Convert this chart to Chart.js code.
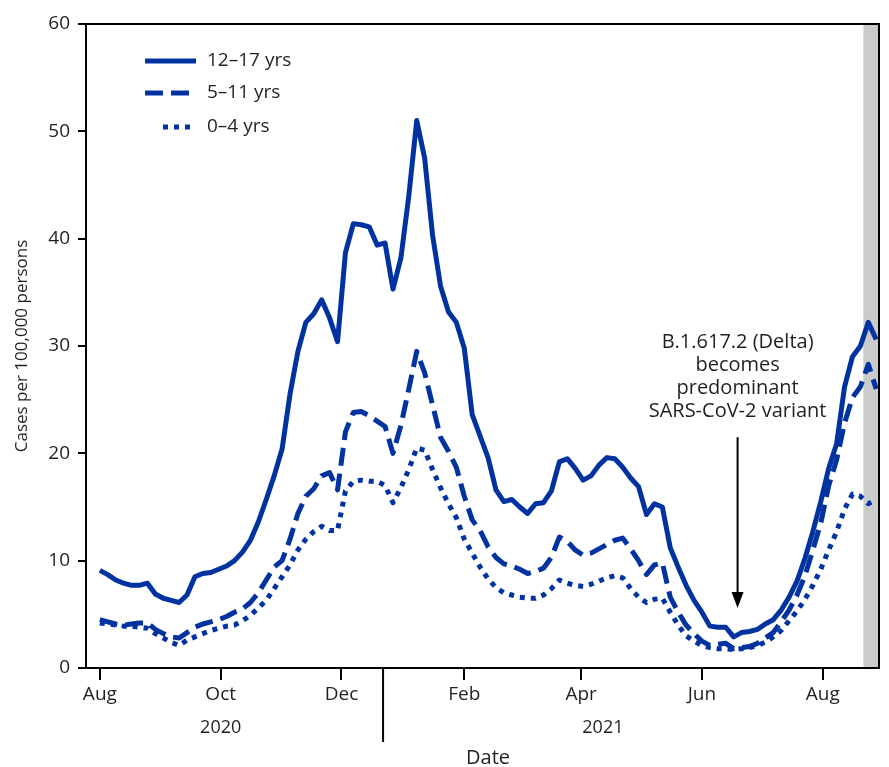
<!DOCTYPE html>
<html>
<head>
<meta charset="utf-8">
<script src="https://cdn.jsdelivr.net/npm/chart.js@4"></script>
<style>
  html, body { margin: 0; padding: 0; background: #fff; }
  #wrap { width: 889px; height: 767px; }
</style>
</head>
<body>
<div id="wrap"><canvas id="caseChart" width="889" height="767"></canvas></div>
<script>
// Days since Aug 1, 2020 (sampled every 4 days)
const days = [
  0, 4, 8, 12, 16, 20, 24, 28, 32, 36,
  40, 44, 48, 52, 56, 60, 64, 68, 72, 76,
  80, 84, 88, 92, 96, 100, 104, 108, 112, 116,
  120, 124, 128, 132, 136, 140, 144, 148, 152, 156,
  160, 164, 168, 172, 176, 180, 184, 188, 192, 196,
  200, 204, 208, 212, 216, 220, 224, 228, 232, 236,
  240, 244, 248, 252, 256, 260, 264, 268, 272, 276,
  280, 284, 288, 292, 296, 300, 304, 308, 312, 316,
  320, 324, 328, 332, 336, 340, 344, 348, 352, 356,
  360, 364, 368, 372, 376, 380, 384, 388, 392
];

// Cases per 100,000 persons
const age12to17 = [
  9.1, 8.7, 8.2, 7.9, 7.7, 7.7, 7.9, 6.9, 6.5, 6.3,
  6.1, 6.8, 8.5, 8.8, 8.9, 9.2, 9.5, 10.0, 10.8, 11.9,
  13.6, 15.7, 17.9, 20.4, 25.5, 29.5, 32.2, 33.0, 34.3, 32.6,
  30.4, 38.7, 41.4, 41.3, 41.1, 39.4, 39.6, 35.3, 38.2, 44.0,
  51.0, 47.5, 40.3, 35.6, 33.2, 32.2, 29.8, 23.6, 21.6, 19.6,
  16.6, 15.5, 15.7, 15.0, 14.4, 15.3, 15.4, 16.5, 19.2, 19.5,
  18.6, 17.5, 17.9, 18.9, 19.6, 19.5, 18.7, 17.7, 16.9, 14.3,
  15.3, 15.0, 11.2, 9.4, 7.7, 6.3, 5.2, 3.9, 3.8, 3.8,
  2.9, 3.3, 3.4, 3.6, 4.1, 4.5, 5.4, 6.6, 8.1, 10.2,
  12.7, 15.5, 18.6, 20.9, 26.2, 29.0, 30.0, 32.2, 30.6
];
const age5to11 = [
  4.5, 4.3, 4.1, 4.0, 4.1, 4.2, 4.2, 3.6, 3.2, 2.9,
  2.8, 3.3, 3.8, 4.1, 4.3, 4.5, 4.8, 5.2, 5.5, 6.1,
  7.0, 8.2, 9.4, 10.0, 12.0, 14.4, 16.0, 16.7, 17.9, 18.2,
  16.6, 22.0, 23.8, 23.9, 23.5, 23.0, 22.5, 20.0, 22.6, 26.0,
  29.5, 27.5, 24.5, 21.5, 20.2, 18.7, 16.0, 13.8, 12.8, 11.3,
  10.3, 9.7, 9.5, 9.2, 8.8, 9.0, 9.3, 10.3, 12.2, 11.8,
  11.0, 10.5, 10.7, 11.1, 11.5, 11.9, 12.1, 11.1, 10.0, 8.7,
  9.6, 9.8, 6.6, 5.2, 4.0, 3.2, 2.5, 2.1, 2.2, 2.3,
  1.8, 1.9, 2.0, 2.3, 2.8, 3.3, 4.3, 5.4, 6.8, 8.6,
  11.0, 13.5, 17.0, 19.4, 22.8, 25.2, 26.2, 28.3, 26.0
];
const age0to4 = [
  4.2, 4.1, 4.0, 3.9, 3.9, 3.8, 3.7, 3.2, 2.8, 2.4,
  2.1, 2.6, 2.9, 3.2, 3.5, 3.7, 3.9, 4.0, 4.4, 4.9,
  5.6, 6.3, 7.4, 8.5, 9.6, 11.0, 12.0, 12.7, 13.2, 12.8,
  12.8, 16.5, 17.4, 17.5, 17.4, 17.4, 17.0, 15.4, 16.8, 18.5,
  20.5, 20.3, 18.5, 16.8, 15.3, 14.0, 12.0, 10.7, 9.4, 8.3,
  7.5, 7.0, 6.8, 6.6, 6.5, 6.5, 6.8, 7.4, 8.2, 7.9,
  7.7, 7.6, 7.8, 8.1, 8.4, 8.6, 8.4, 7.4, 6.6, 6.1,
  6.4, 6.5, 5.2, 4.0, 3.0, 2.5, 2.1, 1.9, 1.8, 1.8,
  1.7, 1.8, 1.9, 2.1, 2.4, 2.9, 3.5, 4.4, 5.3, 6.4,
  7.7, 9.2, 11.0, 12.7, 14.8, 16.2, 16.0, 15.3, 15.7
];

// Axis ticks
const monthTickDays = [0, 61, 122, 184, 243, 304, 365];
const monthTickLabels = ["Aug", "Oct", "Dec", "Feb", "Apr", "Jun", "Aug"];
const yearLabels = ["2020", "2021"];
const yearLabelDays = [61, 254];
const yearBreakDay = 143;

// Shaded (incomplete data) period and Delta annotation
const shadeStartDay = 385.5;
const deltaDay = 322;
const deltaArrowFrom = 21.5;
const deltaArrowTo = 5.6;
const deltaText = ["B.1.617.2 (Delta)", "becomes", "predominant", "SARS-CoV-2 variant"];

const seriesNames = ["12\u201317 yrs", "5\u201311 yrs", "0\u20134 yrs"];
const blue = "#0033a0";
const ink = "#231f20";
const dashes = [[], [18, 8], [5, 6]];

const FONT = "'Open Sans', 'Noto Sans', sans-serif";
Chart.defaults.font.family = FONT;
Chart.defaults.font.size = 19;
Chart.defaults.color = ink;

// Extra drawing: frame, shading, legend, annotation, year labels
const decorations = {
  id: "decorations",
  beforeDatasetsDraw(chart) {
    const { ctx, chartArea } = chart;
    const x = chart.scales.x;
    ctx.save();
    ctx.fillStyle = "#cbcbcb";
    const x0 = x.getPixelForValue(shadeStartDay);
    ctx.fillRect(x0, chartArea.top, chartArea.right - x0, chartArea.bottom - chartArea.top - 1);
    ctx.restore();
  },
  afterDraw(chart) {
    const { ctx, chartArea } = chart;
    const x = chart.scales.x;
    const y = chart.scales.y;
    ctx.save();

    // top and right frame
    ctx.strokeStyle = "#000";
    ctx.lineWidth = 2;
    ctx.beginPath();
    ctx.moveTo(chartArea.left, chartArea.top);
    ctx.lineTo(chartArea.right, chartArea.top);
    ctx.lineTo(chartArea.right, chartArea.bottom);
    ctx.stroke();

    // year separator
    const bx = x.getPixelForValue(yearBreakDay);
    ctx.beginPath();
    ctx.moveTo(bx, chartArea.bottom);
    ctx.lineTo(bx, chartArea.bottom + 74);
    ctx.stroke();

    ctx.fillStyle = ink;
    ctx.font = "18px " + FONT;
    ctx.textAlign = "center";
    ctx.textBaseline = "middle";
    yearLabels.forEach((t, i) => {
      ctx.fillText(t, x.getPixelForValue(yearLabelDays[i]), chartArea.bottom + 60);
    });
    ctx.font = "20px " + FONT;
    ctx.fillText("Date", 488, chartArea.bottom + 90);

    // y axis title
    ctx.save();
    ctx.translate(22, (chartArea.top + chartArea.bottom) / 2);
    ctx.rotate(-Math.PI / 2);
    ctx.font = "17px " + FONT;
    ctx.fillText("Cases per 100,000 persons", 0, 0);
    ctx.restore();

    // legend
    const legendY = [61, 93, 127];
    ctx.strokeStyle = blue;
    ctx.lineWidth = 5;
    legendY.forEach((ly, i) => {
      ctx.setLineDash(dashes[i]);
      ctx.beginPath();
      ctx.moveTo(i === 2 ? 163 : 145, ly);
      ctx.lineTo(196, ly);
      ctx.stroke();
    });
    ctx.setLineDash([]);
    ctx.fillStyle = ink;
    ctx.font = "19px " + FONT;
    ctx.textAlign = "left";
    legendY.forEach((ly, i) => ctx.fillText(seriesNames[i], 207, ly));

    // Delta annotation
    const ax = x.getPixelForValue(deltaDay);
    ctx.textAlign = "center";
    ctx.font = "20px " + FONT;
    deltaText.forEach((t, i) => ctx.fillText(t, ax, 342 + i * 23));
    const yTop = y.getPixelForValue(deltaArrowFrom);
    const yTip = y.getPixelForValue(deltaArrowTo);
    ctx.strokeStyle = "#000";
    ctx.lineWidth = 2;
    ctx.beginPath();
    ctx.moveTo(ax, yTop);
    ctx.lineTo(ax, yTip - 12);
    ctx.stroke();
    ctx.fillStyle = "#000";
    ctx.beginPath();
    ctx.moveTo(ax - 6, yTip - 16);
    ctx.lineTo(ax + 6, yTip - 16);
    ctx.lineTo(ax, yTip);
    ctx.closePath();
    ctx.fill();

    ctx.restore();
  }
};

const ctx = document.getElementById("caseChart").getContext("2d");
new Chart(ctx, {
  type: "line",
  data: {
    labels: days,
    datasets: [age12to17, age5to11, age0to4].map((vals, i) => ({
      label: seriesNames[i],
      data: vals.map((v, j) => ({ x: days[j], y: v })),
      borderColor: blue,
      borderWidth: 5,
      borderDash: dashes[i],
      borderCapStyle: "butt",
      borderJoinStyle: "round",
      pointRadius: 0,
      fill: false,
      tension: 0,
    })),
  },
  options: {
    responsive: false,
    animation: false,
    layout: { padding: { top: 24, right: 10, left: 0, bottom: 0 } },
    plugins: { legend: { display: false }, tooltip: { enabled: false } },
    scales: {
      x: {
        type: "linear",
        min: -7,
        max: 393.4,
        afterFit: (scale) => { scale.height = 99; },
        afterBuildTicks: (scale) => {
          scale.ticks = monthTickDays.map((d) => ({ value: d }));
        },
        ticks: {
          autoSkip: false,
          maxRotation: 0,
          padding: 3,
          color: ink,
          callback: (value) => monthTickLabels[monthTickDays.indexOf(value)],
        },
        grid: { drawOnChartArea: false, color: "#000", lineWidth: 2, tickLength: 12 },
        border: { color: "#000", width: 2 },
      },
      y: {
        min: 0,
        max: 60,
        afterFit: (scale) => { scale.width = 86; },
        ticks: { stepSize: 10, padding: 8, color: ink },
        grid: { drawOnChartArea: false, color: "#000", lineWidth: 2, tickLength: 8 },
        border: { color: "#000", width: 2 },
      },
    },
  },
  plugins: [decorations],
});
</script>
</body>
</html>
